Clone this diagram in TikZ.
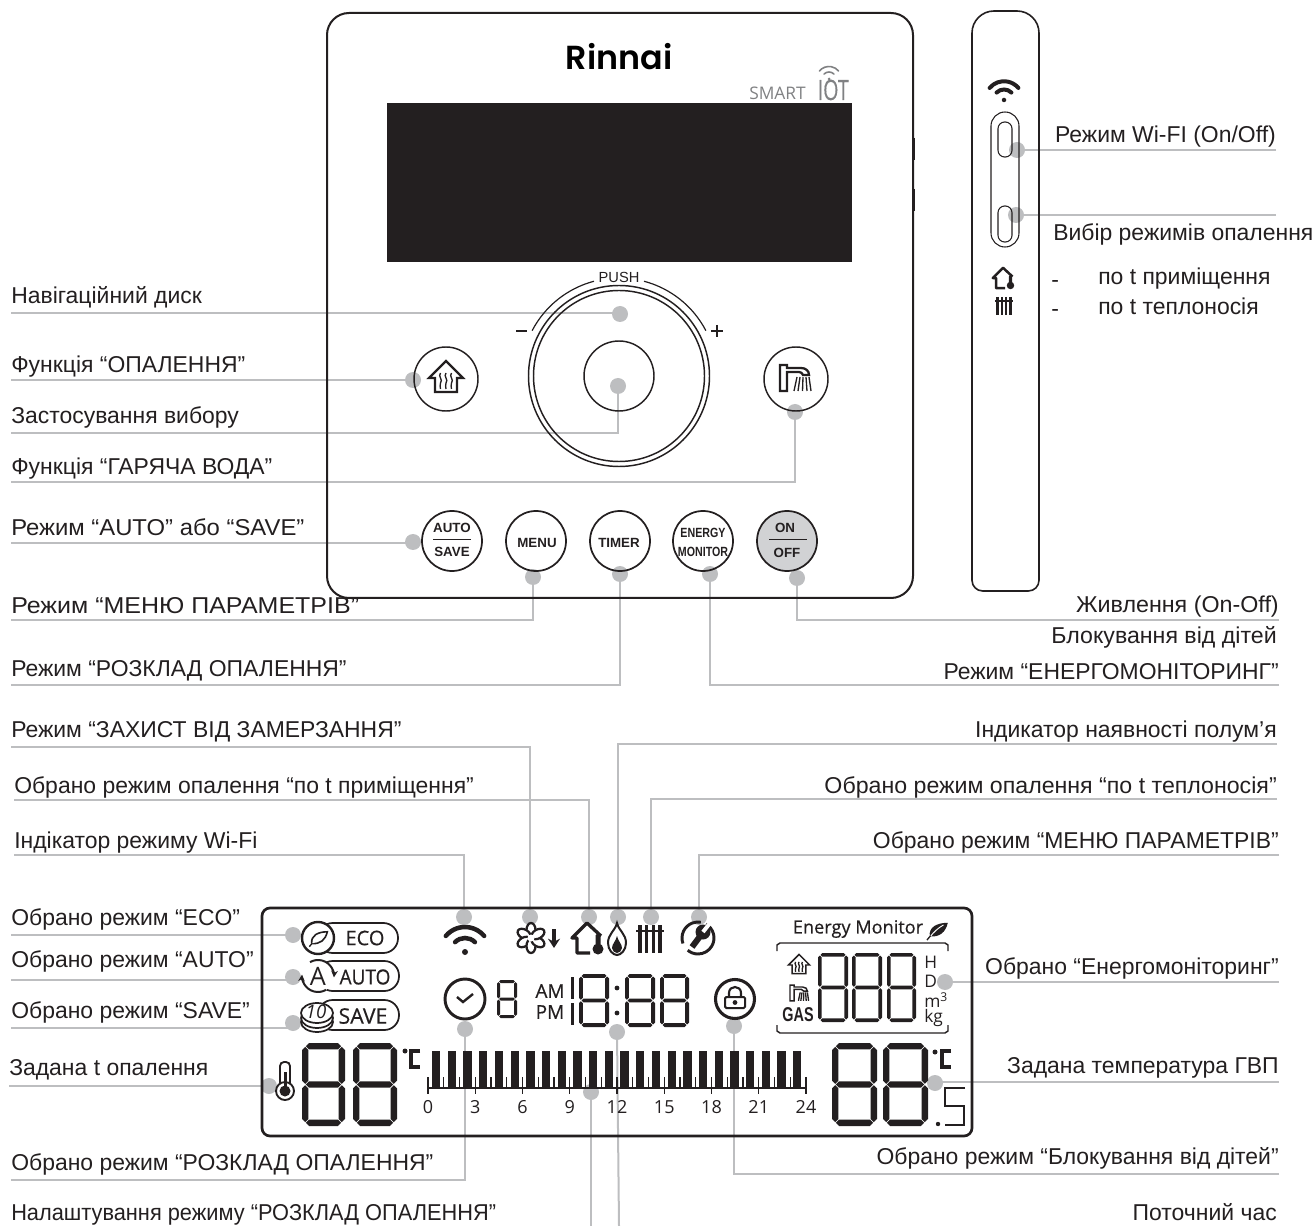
\documentclass[tikz,border=0pt]{standalone}
\usepackage{fontspec}
\usepackage{graphicx}
\usepackage{xcolor}
\usepackage{tikz}
\usetikzlibrary{arrows.meta}

\setmainfont{Liberation Sans}
\newfontfamily\lcdfont{Open Sans}
\newfontfamily\lcdsemi[FakeBold=0.5]{Open Sans}
\newfontfamily\logofont{Poppins SemiBold}
\newcommand{\fs}[1]{\fontsize{#1}{#1}\selectfont}

\definecolor{ink}{HTML}{231F20}
\definecolor{leadgray}{HTML}{BDBEC0}
\definecolor{onfill}{HTML}{D1D2D4}
\definecolor{iotgray}{HTML}{808183}

% one lcd segment, lying or standing
\newcommand{\hseg}[4]{\fill[ink] ({#1},{#3}) -- ({#1+#4/2},{#3-#4/2}) -- ({#2-#4/2},{#3-#4/2}) -- ({#2},{#3}) -- ({#2-#4/2},{#3+#4/2}) -- ({#1+#4/2},{#3+#4/2}) -- cycle;}
\newcommand{\vseg}[4]{\fill[ink] ({#3},{#1}) -- ({#3+#4/2},{#1+#4/2}) -- ({#3+#4/2},{#2-#4/2}) -- ({#3},{#2}) -- ({#3-#4/2},{#2-#4/2}) -- ({#3-#4/2},{#1+#4/2}) -- cycle;}
% digit: left, top, width, height, thickness
\newcommand{\segdigit}[5]{%
  \pgfmathsetmacro{\xa}{#1+#5/2}\pgfmathsetmacro{\xb}{#1+#3-#5/2}%
  \pgfmathsetmacro{\ya}{#2+#5/2}\pgfmathsetmacro{\yb}{#2+#4/2}\pgfmathsetmacro{\yc}{#2+#4-#5/2}%
  \hseg{\xa+.7}{\xb-.7}{\ya}{#5}\hseg{\xa+.7}{\xb-.7}{\yb}{#5}\hseg{\xa+.7}{\xb-.7}{\yc}{#5}%
  \vseg{\ya+.7}{\yb-.7}{\xa}{#5}\vseg{\ya+.7}{\yb-.7}{\xb}{#5}%
  \vseg{\yb+.7}{\yc-.7}{\xa}{#5}\vseg{\yb+.7}{\yc-.7}{\xb}{#5}%
}

\tikzset{
  spot/.style={circle, fill=leadgray, inner sep=0pt, minimum size=12pt},
  leader/.style={draw=leadgray, line width=1.5pt},
  elbow/.style={to path={-| (\tikztotarget.center)}},
  lbl/.style={inner sep=0pt, text depth=#1, text=ink, font=\fs{17.2}},
  lw/.style={lbl=#1, anchor=south west},
  le/.style={lbl=#1, anchor=south east},
  btn/.style={circle, draw=ink, line width=1.1pt, inner sep=0pt, minimum size=#1*1.5pt},
  btxt/.style={inner sep=0pt, text=ink, font=\fs{10}\bfseries},
  lcdtxt/.style={inner sep=0pt, text=ink, font=\lcdfont\fs{#1}},
  lcdbold/.style={inner sep=0pt, text=ink, font=\lcdsemi\fs{#1}},
  wifiicon/.pic={
    \draw[line cap=round] (-140:25) arc[start angle=-140, end angle=-40, radius=25];
    \draw[line cap=round] (-135:14) arc[start angle=-135, end angle=-45, radius=14];
    \fill (0,0) circle (3);
  },
  roomicon/.pic={
    \draw[line join=round] (14,-2) -- (0,-15) -- (-15,0) -- (-10,0) -- (-10,15) -- (3,15);
    \fill[rounded corners=1pt] (8.5,-4) rectangle (13.5,10);
    \fill (11,11) circle (5.5);
  },
  radicon/.pic={
    \foreach \bx in {-10,-3.5,3.5,10} \draw (\bx,-14) -- (\bx,14);
    \draw[line width=1.4pt] (-14,-8) -- (14,-8);
  },
  leaficon/.pic={
    \path[pic actions] (-10,9) .. controls (-12,-4) and (0,-10) .. (15,-10) .. controls (12,3) and (4,10) .. (-10,9) -- cycle;
    \draw[line width=.7pt, draw=white] (-10,10) .. controls (-4,2) and (2,-3) .. (9,-7);
    \draw[line width=1pt] (-14,14) -- (-9,8);
  },
  heaticon/.pic={
    \draw[line join=miter] (0,-17) -- (17,0) -- (11,0) -- (11,14) -- (-11,14) -- (-11,0) -- (-17,0) -- cycle;
    \foreach \hx in {-5.5,0,5.5}
      \draw[line width=1pt] (\hx,-5) .. controls (\hx-3,-2) and (\hx+3,2) .. (\hx,5) .. controls (\hx-2,7) and (\hx+1,9) .. (\hx,11);
  },
  showericon/.pic={
    \draw[line join=miter] (-15,13) -- (-15,-13) -- (-8,-13) -- (-8,-10) -- (6,-10) .. controls (11,-10) and (14,-7) .. (14,-3) -- (8,-3) .. controls (7,-5) and (6,-6) .. (4,-6) -- (-8,-6) -- (-8,13) -- cycle;
    \foreach \sa/\sb in {2/-1,5/3,8/7.5,11/12,14/16}
      \draw[line width=1pt] (\sa,-1) -- (\sb,13);
  }
}

\begin{document}
\begin{tikzpicture}[x=.75pt, y=-.75pt]
\useasboundingbox (0,0) rectangle (1314,1226);

% grey spots
\foreach \nm/\px/\py in {
  navdot/620/314, heatdot/413/380, confdot/618/386, hotdot/795/412, autodot/413/542,
  menudot/533/577, timerdot/620/574, enerdot/710/574, ondot/797/578,
  wifidot/1017/150, modedot/1016/215,
  frostdot/530/917, roomdot/589/917, wlandot/464/917, flamedot/618/917, raddot/651/917, wrenchdot/699/917,
  ecodot/293/935, autosdot/293/977, savedot/293/1023, setdot/269/1086,
  clockdot/465/1029, lockdot/734/1026, timedot/617/1032, plandot/591/1092,
  monidot/945/982, dhwdot/935/1083}
  \node[spot] (\nm) at (\px,\py) {};

% labels, left column
\node[lw=6.75pt] (navlbl) at (11,313) {Навігаційний диск};
\node[lw=5.25pt] (heatlbl) at (11,380) {Функція “ОПАЛЕННЯ”};
\node[lw=6.75pt] (conflbl) at (11,433) {Застосування вибору};
\node[lw=5.25pt] (hotlbl) at (11,482) {Функція “ГАРЯЧА ВОДА”};
\node[lw=5.25pt] (autolbl) at (11,543) {\scalebox{1.04}[1]{Режим “AUTO” або “SAVE”}};
\node[lw=4.5pt] (menulbl) at (11,620) {\scalebox{1.09}[1]{Режим “МЕНЮ ПАРАМЕТРІВ”}};
\node[lw=6pt] (timerlbl) at (11,685) {Режим “РОЗКЛАД ОПАЛЕННЯ”};
\node[lw=6.75pt] (frostlbl) at (11,747) {Режим “ЗАХИСТ ВІД ЗАМЕРЗАННЯ”};
\node[lw=4.5pt] (roomlbl) at (14,800) {Обрано режим опалення “по t приміщення”};
\node[lw=4.5pt] (wlanlbl) at (14,855) {Індікатор режиму Wi-Fi};
\node[lw=6.75pt] (ecolbl) at (11,935) {Обрано режим “ECO”};
\node[lw=9pt] (autoslbl) at (11,980) {Обрано режим “AUTO”};
\node[lw=6.75pt] (savelbl) at (11,1028) {Обрано режим “SAVE”};
\node[lw=7.5pt] (setlbl) at (9,1086) {Задана t опалення};
\node[lw=6.75pt] (clocklbl) at (11,1180) {Обрано режим “РОЗКЛАД ОПАЛЕННЯ”};
\node[lbl=0pt, anchor=west] (planlbl) at (11,1212) {\scalebox{.95}[1]{Налаштування режиму “РОЗКЛАД ОПАЛЕННЯ”}};

% labels, right column
\node[le=5.25pt] (wifilbl) at (1276,150) {Режим Wi-FI (On/Off)};
\node[lbl=0pt, anchor=west] (modelbl) at (1053,232) {Вибір режимів опалення};
\node[lbl=0pt, anchor=west] (dasha) at (1051,284) {-};
\node[lbl=0pt, anchor=west] (rooma) at (1098,276) {по t приміщення};
\node[lbl=0pt, anchor=west] (dashb) at (1051,313) {-};
\node[lbl=0pt, anchor=west] (radb) at (1098,306) {по t теплоносія};
\node[le=5.25pt] (onlbl) at (1279,620) {\scalebox{1.015}[1]{Живлення (On-Off)}};
\node[lbl=0pt, anchor=east] (kidlbl) at (1277,635) {\scalebox{1.01}[1]{Блокування від дітей}};
\node[le=3.75pt] (enerlbl) at (1279,685) {Режим “ЕНЕРГОМОНІТОРИНГ”};
\node[le=4.5pt] (flamelbl) at (1277,744) {Індикатор наявності полум’я};
\node[le=3.75pt] (radlbl) at (1277,799) {\scalebox{1.01}[1]{Обрано режим опалення “по t теплоносія”}};
\node[le=4.5pt] (wrenchlbl) at (1279,855) {Обрано режим “МЕНЮ ПАРАМЕТРІВ”};
\node[le=5.25pt] (monilbl) at (1279,982) {Обрано “Енергомоніторинг”};
\node[le=6pt] (dhwlbl) at (1279,1082) {Задана температура ГВП};
\node[le=6.75pt] (locklbl) at (1279,1174) {Обрано режим “Блокування від дітей”};
\node[lbl=0pt, anchor=east] (timelbl) at (1277,1212) {Поточний час};

% free ends
\coordinate (modeend) at (1276,215);
\coordinate (planend) at (591,1226);
\coordinate (timeend) at (619,1226);

\path[leader]
  % control panel
  (navlbl.south west) edge[elbow] (navdot)
  (heatlbl.south west) edge[elbow] (heatdot)
  (conflbl.south west) edge[elbow] (confdot)
  (hotlbl.south west) edge[elbow] (hotdot)
  (autolbl.south west) edge[elbow] (autodot)
  (menulbl.south west) edge[elbow] (menudot)
  (timerlbl.south west) edge[elbow] (timerdot)
  (enerlbl.south east) edge[elbow] (enerdot)
  (onlbl.south east) edge[elbow] (ondot)
  % side view
  (wifilbl.south east) edge[elbow] (wifidot)
  (modeend) edge[elbow] (modedot)
  % display, from above
  (frostlbl.south west) edge[elbow] (frostdot)
  (roomlbl.south west) edge[elbow] (roomdot)
  (wlanlbl.south west) edge[elbow] (wlandot)
  (flamelbl.south east) edge[elbow] (flamedot)
  (radlbl.south east) edge[elbow] (raddot)
  (wrenchlbl.south east) edge[elbow] (wrenchdot)
  % display, from the sides
  (ecolbl.south west) edge[elbow] (ecodot)
  (autoslbl.south west) edge[elbow] (autosdot)
  (savelbl.south west) edge[elbow] (savedot)
  (setlbl.south west) edge[elbow] (setdot)
  (monilbl.south east) edge[elbow] (monidot)
  (dhwlbl.south east) edge[elbow] (dhwdot)
  % display, from below
  (clocklbl.south west) edge[elbow] (clockdot)
  (locklbl.south east) edge[elbow] (lockdot)
  (planend) edge (plandot.center)
  (timeend) edge (timedot.center);

% panel front
\draw[ink, line width=1.5pt, rounded corners=16.5pt] (327,13) rectangle (913,598);
\draw[ink, line width=1.2pt] (914,138) -- (914,160) (914,189) -- (914,211);
\fill[ink] (387,103) rectangle (852,262);
\node[inner sep=0pt, font=\logofont\fs{25}] (logo) at (619,57) {Rinnai};
\node[inner sep=0pt, anchor=base east, text=iotgray, font=\lcdfont\fs{13}] (smart) at (806,100) {SMART};
\node[inner sep=0pt, anchor=base east, text=iotgray, font=\lcdsemi\fs{21}] (iot) at (849,100) {\scalebox{.7}[1]{IOT}};
\pic[iotgray, line width=1.2pt, scale=.5] at (829,79) {wifiicon};

% dial
\node[btn=90.5] (dialout) at (619,376) {};
\node[btn=85.5] (dialin) at (619,376) {};
\node[btn=35] (dialcore) at (619,376) {};
\draw[ink, line width=.9pt] (dialin.center) ++(-152.4:98) arc[start angle=-152.4, end angle=-104.8, radius=98];
\draw[ink, line width=.9pt] (dialin.center) ++(-75.2:98) arc[start angle=-75.2, end angle=-27.6, radius=98];
\node[inner sep=0pt, text=ink, font=\fs{11}] (push) at (619,277) {PUSH};
\draw[ink, line width=1.5pt] (516,331) -- (527,331);
\draw[ink, line width=1.5pt] (711,331) -- (723,331) (717,325) -- (717,337);

% upper keys
\node[btn=32] (heatkey) at (446,379) {};
\node[btn=32] (hotkey) at (796,379) {};
\pic[ink, line width=1.7pt] at (446,378) {heaticon};
\pic[ink, line width=1.7pt] at (795,378) {showericon};

% lower keys
\node[btn=30, line width=1.3pt] (autokey) at (452,541) {};
\node[btn=30, line width=1.3pt] (menukey) at (536,541) {};
\node[btn=30, line width=1.3pt] (timerkey) at (620,541) {};
\node[btn=30, line width=1.3pt] (enerkey) at (703,541) {};
\node[btn=30, line width=1.3pt, fill=onfill] (onkey) at (787,541) {};
\node[btxt] (autotxt) at (452,528) {AUTO};
\node[btxt] (savetxt) at (452,552) {SAVE};
\node[btxt] (menutxt) at (537,543) {MENU};
\node[btxt] (timertxt) at (619,543) {TIMER};
\node[btxt] (enertxt) at (703,533) {\scalebox{.8}[1]{ENERGY}};
\node[btxt] (monitxt) at (703,552) {\scalebox{.8}[1]{MONITOR}};
\node[btxt] (ontxt) at (785,528) {ON};
\node[btxt] (offtxt) at (787,553) {OFF};
\draw[ink, line width=.7pt] (433,539) -- (471,539) (769,539) -- (807,539);

% side view
\draw[ink, line width=1.2pt] (972,300) [rounded corners=16.5pt] -- (972,11) -- (1039,11) -- (1039,300) [rounded corners=8pt] -- (1039,591) -- (972,591) -- cycle;
\pic[ink, line width=3pt, scale=.75] at (1004,100) {wifiicon};
\draw[ink, line width=.8pt, rounded corners=10.5pt] (991,112) rectangle (1019,247);
\draw[ink, line width=.8pt, rounded corners=5pt] (998,122) rectangle (1012,157);
\draw[ink, line width=.8pt, rounded corners=5pt] (998,206) rectangle (1012,242);
\pic[ink, line width=1.9pt, scale=.68] at (1003,278) {roomicon};
\pic[ink, line width=1.7pt, scale=.65] at (1004,306) {radicon};

% display frame
\draw[ink, line width=2pt, rounded corners=6pt] (262,908) rectangle (972,1136);

% mode pills
\draw[ink, line width=1.3pt, rounded corners=11pt] (318,923) rectangle (398,953);
\draw[ink, line width=1.3pt, rounded corners=11pt] (318,961) rectangle (399,991);
\draw[ink, line width=1.3pt, rounded corners=11pt] (318,1000) rectangle (399,1030);
\draw[ink, line width=1.8pt, fill=white] (318,938) circle (16);
\pic[draw=ink, fill=white, line width=1.2pt, scale=.62] at (318,938) {leaficon};
\node[lcdbold=15] (ecotxt) at (365,938) {ECO};
\fill[white] (318,976) circle (16);
\draw[ink, line width=1.5pt, -{Stealth[length=5pt,width=5pt]}] (318,976) ++(-120:16) arc[start angle=-120, end angle=5, radius=16];
\draw[ink, line width=1.5pt, -{Stealth[length=5pt,width=5pt]}] (318,976) ++(60:16) arc[start angle=60, end angle=185, radius=16];
\node[lcdtxt=19] (atxt) at (318,976) {A};
\node[lcdbold=15.5] (autoword) at (365,977) {\scalebox{.92}[1]{AUTO}};
\foreach \cy in {1022,1018,1013}
  \draw[ink, line width=1.3pt, fill=white] (317,\cy) ellipse (16 and 10);
\node[lcdtxt=14] (coin) at (316,1012) {\itshape 10};
\node[lcdbold=16] (saveword) at (363,1016) {SAVE};

% top row icons
\pic[ink, line width=3.4pt] at (465,952) {wifiicon};
\foreach \ang in {0,60,...,300}
  \draw[ink, line width=1.7pt, fill=white, rotate around={\ang:(531,938)}] (531,930) ellipse (4.5 and 7);
\fill[white] (531,938) circle (3.5);
\draw[ink, line width=2.6pt, -{Stealth[length=7pt,width=9pt]}] (554,929) -- (554,948);
\pic[ink, line width=2.5pt] at (587,938) {roomicon};
\draw[ink, line width=1.5pt] (617,923) .. controls (619,931) and (626,934) .. (626,943) .. controls (626,950) and (621,955) .. (617,955) .. controls (613,955) and (608,950) .. (608,943) .. controls (608,934) and (615,931) .. cycle;
\fill[ink] (617,936) .. controls (618,941) and (622,944) .. (622,948) .. controls (622,951) and (619,953) .. (617,953) .. controls (615,953) and (612,951) .. (612,948) .. controls (612,944) and (616,941) .. cycle;
\pic[ink, line width=2.6pt] at (650,939) {radicon};
\draw[ink, line width=2.2pt] (698,938) ++(-60:16) arc[start angle=-60, end angle=130, radius=16];
\draw[ink, line width=2.2pt] (698,938) ++(160:16) arc[start angle=160, end angle=280, radius=16];
\draw[ink, line width=4.5pt] (692,947) -- (701,935);
\fill[ink] (703,932) circle (7.5);
\draw[white, line width=3pt] (703,932) -- (710,923);

% clock and small digit
\draw[ink, line width=2.2pt] (465,999) circle (20);
\draw[ink, line width=1.8pt] (457,997) -- (463,1002) -- (473,994);
\segdigit{497}{980}{20}{38}{3}
\node[lcdbold=14.2] (amtxt) at (550,991) {AM};
\node[lcdbold=14.2] (pmtxt) at (550,1012) {PM};

% clock digits
\fill[ink] (570.5,977) rectangle (573.5,999);
\fill[ink] (570.5,1003) rectangle (573.5,1025);
\segdigit{579}{974}{30}{53}{3.8}
\fill[ink] (617,988) circle (2.4) (617,1013) circle (2.4);
\segdigit{625}{974}{30}{53}{3.8}
\segdigit{660}{974}{29}{53}{3.8}

% lock
\draw[ink, line width=2.3pt] (735,999) circle (19.5);
\draw[ink, line width=1.6pt] (729,998) -- (729,993) .. controls (729,985) and (741,985) .. (741,993) -- (741,998);
\draw[ink, line width=1.5pt, fill=white, rounded corners=1pt] (725,997) rectangle (745,1008);
\fill[ink] (735,1002.5) circle (2.4);

% energy monitor block
\node[lcdbold=13.6] (monitxt2) at (858,929) {Energy Monitor};
\pic[ink, fill=ink, line width=1pt, scale=.72] at (937,930) {leaficon};
\draw[ink, line width=1.1pt] (777,951) -- (777,945) -- (780,943) -- (945,943) -- (948,945) -- (948,951);
\draw[ink, line width=1.1pt] (777,1025) -- (777,1031) -- (780,1033) -- (945,1033) -- (948,1031) -- (948,1025);
\pic[ink, line width=1.1pt, scale=.62] at (799,965) {heaticon};
\pic[ink, line width=1.1pt, scale=.6] at (799,993) {showericon};
\node[btxt] (gastxt) at (798,1015) {\fs{15}\scalebox{.72}[1]{GAS}};
\segdigit{818}{953}{30}{69}{3.6}
\segdigit{852}{953}{30}{69}{3.6}
\segdigit{887}{953}{29}{69}{3.6}
\node[lcdtxt=13, anchor=west] (htxt) at (924,962) {H};
\node[lcdtxt=13, anchor=west] (dtxt) at (924,981) {D};
\node[lcdtxt=13, anchor=west] (mtxt) at (924,1000) {m\textsuperscript{3}};
\node[lcdtxt=13, anchor=west] (kgtxt) at (924,1018) {kg};

% big digits and thermometer
\draw[ink, line width=1.4pt, rounded corners=3pt] (280,1062) rectangle (290,1090);
\draw[ink, line width=1.4pt, fill=white] (285,1091) circle (9);
\fill[ink] (285,1091) circle (5.5);
\fill[ink] (283.5,1072) rectangle (286.5,1090);
\segdigit{302}{1043}{43}{83}{6.4}
\segdigit{353}{1043}{44}{83}{6.4}
\fill[ink] (405,1051) circle (2.5);
\draw[ink, line width=2.6pt] (420,1051) -- (411,1051) -- (411,1067) -- (420,1067);

\segdigit{832}{1043}{45}{83}{6.4}
\segdigit{883}{1043}{45}{83}{6.4}
\fill[ink] (935,1052) circle (2.5);
\draw[ink, line width=2.6pt] (951,1051) -- (942,1051) -- (942,1067) -- (951,1067);
\fill[ink] (938,1124) circle (2.2);
\draw[ink, line width=2pt] (965,1088) -- (945,1088) -- (945,1106) -- (964,1106) -- (964,1125) -- (945,1125);

% day bars and hour scale
\foreach \i in {0,...,23}
  \fill[ink] ({432+15.7*\i},1051) rectangle ++(8.3,36);
\draw[ink, line width=1pt] (428,1088) -- (806,1088);
\foreach \i in {0,...,24}
  \draw[ink, line width=1pt] ({428+15.75*\i},1077) -- ++(0,11);
\foreach \h in {0,3,...,24} {
  \draw[ink, line width=1pt] ({428+15.75*\h},1088) -- ++(0,6);
  \node[lcdtxt=13.5] (hour\h) at ({428+15.75*\h},1107) {\h};
}

\end{tikzpicture}
\end{document}
